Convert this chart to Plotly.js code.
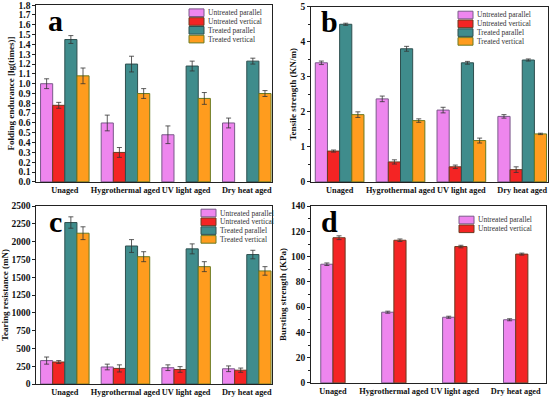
<!DOCTYPE html>
<html><head><meta charset="utf-8">
<script src="https://cdn.plot.ly/plotly-3.0.1.min.js"></script>
<style>html,body{margin:0;padding:0;background:#fff}#chart{width:550px;height:398px}</style>
</head><body><div id="chart"></div>
<script>
const categories = ["Unaged", "Hygrothermal aged", "UV light aged", "Dry heat aged"];
const seriesNames = ["Untreated parallel", "Untreated vertical", "Treated parallel", "Treated vertical"];

// Panel a: Folding endurance [lg(times)]
const foldUP = [1.00, 0.60, 0.48, 0.60];
const foldUPErr = [0.05, 0.08, 0.09, 0.05];
const foldUV = [0.78, 0.30, null, null];
const foldUVErr = [0.03, 0.05, 0, 0];
const foldTP = [1.45, 1.20, 1.18, 1.23];
const foldTPErr = [0.04, 0.08, 0.05, 0.03];
const foldTV = [1.08, 0.90, 0.85, 0.90];
const foldTVErr = [0.08, 0.05, 0.06, 0.03];

// Panel b: Tensile strength (KN/m)
const tensUP = [3.40, 2.37, 2.05, 1.87];
const tensUPErr = [0.05, 0.08, 0.08, 0.05];
const tensUV = [0.88, 0.57, 0.43, 0.35];
const tensUVErr = [0.03, 0.06, 0.05, 0.08];
const tensTP = [4.50, 3.80, 3.40, 3.48];
const tensTPErr = [0.03, 0.07, 0.04, 0.03];
const tensTV = [1.92, 1.75, 1.18, 1.37];
const tensTVErr = [0.08, 0.05, 0.07, 0.02];

// Panel c: Tearing resistance (mN)
const tearUP = [330, 240, 230, 215];
const tearUPErr = [50, 40, 40, 40];
const tearUV = [310, 220, 205, 195];
const tearUVErr = [20, 50, 40, 30];
const tearTP = [2270, 1940, 1900, 1820];
const tearTPErr = [80, 90, 70, 60];
const tearTV = [2120, 1790, 1650, 1590];
const tearTVErr = [90, 70, 70, 60];

// Panel d: Bursting strength (KPa)
const burstUP = [94, 56, 52, 50];
const burstUPErr = [1, 0.8, 0.8, 0.8];
const burstUV = [115, 113, 108, 102];
const burstUVErr = [1.5, 1, 1, 0.8];

const FONT = "Liberation Serif, Times New Roman, serif";
const fills = ["#ee86ee", "#f42424", "#3f8c8c", "#ff9c1e"];
const edges = ["#7a5a8a", "#6a3a20", "#2e4f4f", "#6a7a20"];
const offsets4 = [-0.4, -0.2, 0, 0.2];

function bar(y, err, k, ax, offset) {
  return {
    type: "bar", x: categories, y: y, name: seriesNames[k],
    xaxis: "x" + ax, yaxis: "y" + ax, showlegend: false,
    width: 0.2, offset: offset,
    marker: {color: fills[k], line: {color: edges[k], width: 1}},
    error_y: {type: "data", array: err, visible: true, color: "#333", thickness: 0.8, width: 2.5}
  };
}
const traces = [
  bar(foldUP, foldUPErr, 0, "", offsets4[0]),
  bar(foldUV, foldUVErr, 1, "", offsets4[1]),
  bar(foldTP, foldTPErr, 2, "", offsets4[2]),
  bar(foldTV, foldTVErr, 3, "", offsets4[3]),
  bar(tensUP, tensUPErr, 0, "2", offsets4[0]),
  bar(tensUV, tensUVErr, 1, "2", offsets4[1]),
  bar(tensTP, tensTPErr, 2, "2", offsets4[2]),
  bar(tensTV, tensTVErr, 3, "2", offsets4[3]),
  bar(tearUP, tearUPErr, 0, "3", offsets4[0]),
  bar(tearUV, tearUVErr, 1, "3", offsets4[1]),
  bar(tearTP, tearTPErr, 2, "3", offsets4[2]),
  bar(tearTV, tearTVErr, 3, "3", offsets4[3]),
  bar(burstUP, burstUPErr, 0, "4", -0.2),
  bar(burstUV, burstUVErr, 1, "4", 0)
];

const tickfont = {family: FONT, size: 9.5, color: "#111", weight: "bold"};
function xax(domain, anchor, range) {
  return {domain: domain, anchor: anchor, type: "category", range: range, tickangle: 0,
    showline: true, mirror: true, linecolor: "#222", linewidth: 1, ticks: "", automargin: false,
    tickfont: {family: FONT, size: 8.3, color: "#111", weight: "bold"}, showgrid: false, zeroline: false};
}
function yax(domain, anchor, range, dtick, title, fmt, minor) {
  const o = {domain: domain, anchor: anchor, range: range, dtick: dtick, automargin: false,
    showline: true, mirror: true, linecolor: "#222", linewidth: 1,
    ticks: "outside", ticklen: 3, tickcolor: "#222", tickfont: tickfont, tickformat: fmt,
    showgrid: false, zeroline: false,
    title: {text: title, font: {family: FONT, size: 9, color: "#111", weight: "bold"}, standoff: 2}};
  if (minor) o.minor = {ticks: "outside", ticklen: 2, tickcolor: "#222", dtick: minor};
  return o;
}
function letter(t, xr, yr) {
  return {text: "<b>" + t + "</b>", xref: xr, yref: yr, x: 0.08, y: 1.02, xanchor: "center", yanchor: "top",
    showarrow: false, font: {family: FONT, size: 30, color: "#000"}};
}

// custom compact legends (paper pixel positions converted to fractions)
const W = 550, H = 398;
const shapes = [], annos = [];
function addLegend(x0, yFirst, n) {
  for (let k = 0; k < n; k++) {
    const yc = yFirst + k * 8.8;
    shapes.push({type: "rect", xref: "paper", yref: "paper",
      x0: x0 / W, x1: (x0 + 15) / W, y0: 1 - (yc + 3.8) / H, y1: 1 - (yc - 3.8) / H,
      fillcolor: fills[k], line: {color: edges[k], width: 1}});
    annos.push({text: seriesNames[k], xref: "paper", yref: "paper", x: (x0 + 17) / W, y: 1 - yc / H,
      xanchor: "left", yanchor: "middle", showarrow: false,
      font: {family: FONT, size: 7.5, color: "#333"}});
  }
}
addLegend(189, 12.7, 4);
addLegend(458, 15, 4);
addLegend(201, 213, 4);
addLegend(459, 220, 2);

const layout = {
  width: 550, height: 398, margin: {l: 0, r: 0, t: 0, b: 0},
  paper_bgcolor: "#fff", plot_bgcolor: "#fff", showlegend: false, bargap: 0, bargroupgap: 0,
  xaxis: xax([0.066, 0.495], "y", [-0.47, 3.42]),
  yaxis: yax([0.543, 0.987], "x", [0, 1.8], 0.1, "Folding endurance [lg(times)]", ".1f", null),
  xaxis2: xax([0.5655, 0.996], "y2", [-0.47, 3.42]),
  yaxis2: yax([0.543, 0.983], "x2", [0, 5], 1, "Tensile strength (KN/m)", "d", 0.5),
  xaxis3: xax([0.066, 0.495], "y3", [-0.47, 3.42]),
  yaxis3: yax([0.035, 0.482], "x3", [0, 2500], 250, "Tearing resistance (mN)", "d", null),
  xaxis4: xax([0.5655, 0.993], "y4", [-0.36, 3.5]),
  yaxis4: yax([0.038, 0.482], "x4", [0, 140], 20, "Bursting strength (KPa)", "d", 10),
  shapes: shapes,
  annotations: [
    letter("a", "x domain", "y domain"),
    letter("b", "x2 domain", "y2 domain"),
    letter("c", "x3 domain", "y3 domain"),
    letter("d", "x4 domain", "y4 domain")
  ].concat(annos)
};

Plotly.newPlot("chart", traces, layout, {staticPlot: true, displayModeBar: false});
</script></body></html>
